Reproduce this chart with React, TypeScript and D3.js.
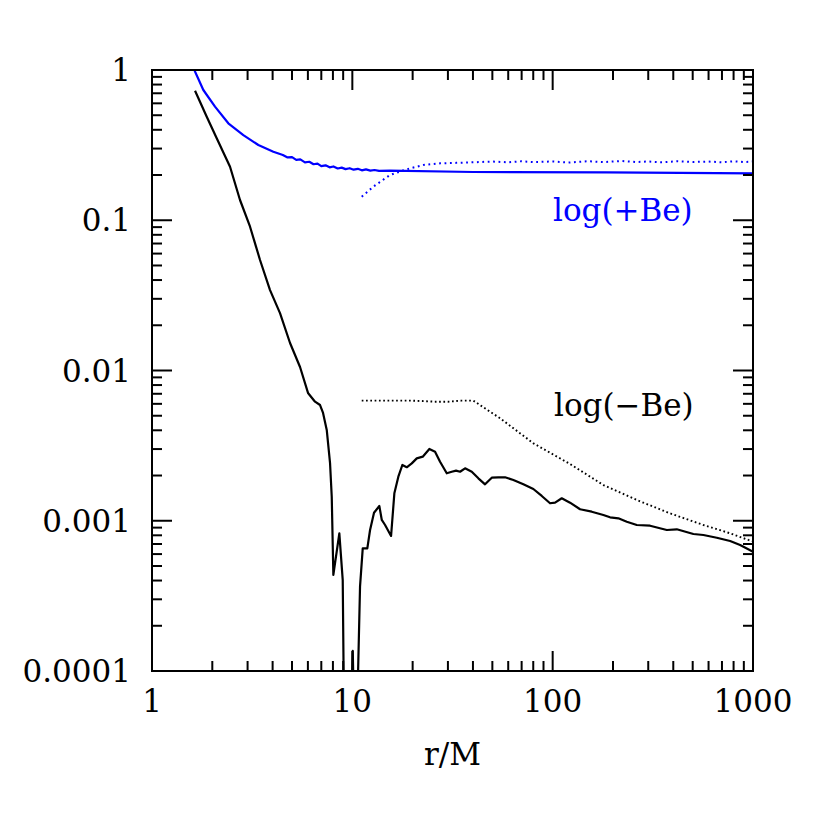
import React from "react";
import * as d3 from "d3";

// ---- data ----
const blackSolidR = [1.64,1.876,2.104,2.452,2.75,3.086,3.461,3.883,4.355,4.887,5.482,6.008,6.513,6.9,7.142,7.452,7.74,7.893,8.04,8.612,8.955,9.09,9.85,10.05,10.2,10.56,10.925,11.27,11.88,12.26,12.83,13.64,14.03,14.57,15.61,16.21,16.97,17.77,18.69,19.8,20.97,22.46,24.24,25.88,27.41,29.6,31.35,32.94,34.49,36.53,39.47,42.57,45.97,49.66,53.57,57.85,63.67,71.41,80.09,88.23,97.05,102.8,111,122.1,137,156.7,179.1,193.4,212.8,234.4,263,306.4,371.3,416.5,504.1,565.5,659.5,768.7,862.3,1000];
const blackSolidV = [0.728,0.489,0.351,0.227,0.1364,0.0906,0.0544,0.0343,0.0241,0.01524,0.01055,0.00709,0.0062,0.00589,0.00522,0.00402,0.00242,0.00144,0.000436,0.000825,0.000403,0.00005,0.00005,0.000136,0.00005,0.00005,0.000364,0.000655,0.000655,0.000868,0.001131,0.001253,0.001012,0.000937,0.000792,0.001523,0.001964,0.00235,0.00227,0.00241,0.0026,0.00267,0.003003,0.00288,0.00247,0.00207,0.00212,0.002154,0.00212,0.002234,0.00212,0.001916,0.001748,0.001934,0.001946,0.001946,0.001867,0.001748,0.001627,0.001462,0.001307,0.001319,0.001411,0.001319,0.001192,0.001149,0.001092,0.001054,0.001038,0.000986,0.000937,0.000927,0.000868,0.000877,0.000816,0.000804,0.000771,0.000733,0.00069,0.000622];

const blackDotR = [11.14,20,26,30,35,40.19,54.63,80.1,122.1,179.1,263,385.6,565.5,768.7,948.5,1000];
const blackDotV = [0.0063,0.0063,0.0062,0.0062,0.0063,0.0063,0.00481,0.003277,0.002386,0.001729,0.001374,0.00112,0.000937,0.000825,0.000745,0.00073];

const blueSolidR = [1.6,1.804,2.063,2.404,2.857,3.395,4.034,4.5,4.75,5.0,5.25,5.5,5.8,6.1,6.4,6.7,7.0,7.35,7.7,8.05,8.45,8.85,9.25,9.7,10.15,10.65,11.15,11.7,12.3,12.9,13.6,15.42,40.05,186.2,1000];
const blueSolidV = [1.05,0.736,0.57,0.442,0.369,0.3168,0.286,0.272,0.262,0.263,0.252,0.254,0.243,0.245,0.236,0.238,0.229,0.232,0.225,0.228,0.221,0.224,0.219,0.222,0.217,0.22,0.215,0.218,0.214,0.216,0.213,0.2137,0.2095,0.2085,0.205];

const blueDotR = [11.14,12.73,15.42,18.69,22.62,27.41,33,40.19,50,60,70,80,100,120,150,180,220,260,300,350,420,500,600,700,800,900,1000];
const blueDotV = [0.1435,0.1673,0.2001,0.2184,0.2332,0.2393,0.241,0.243,0.246,0.243,0.247,0.244,0.246,0.242,0.247,0.244,0.248,0.244,0.246,0.243,0.247,0.244,0.246,0.243,0.247,0.244,0.246];

const xMajor = [1, 10, 100, 1000];
const xMajorLabels = ["1", "10", "100", "1000"];
const yMajor = [0.0001, 0.001, 0.01, 0.1, 1];
const yMajorLabels = ["0.0001", "0.001", "0.01", "0.1", "1"];
const xLabel = "r/M";
const labelPlus = "log(+Be)";
const labelMinus = "log(\u2212Be)";

// ---- layout ----
const W = 822, H = 822;
const L = 152, R = 753, T = 70, B = 671;
const FONT = "'DejaVu Serif', serif";

export default function App() {
  const x = d3.scaleLog().domain([1, 1000]).range([L, R]);
  const y = d3.scaleLog().domain([1e-4, 1]).range([B, T]);
  const line = d3.line<[number, number]>().x(d => x(d[0])).y(d => y(d[1]));
  const zip = (a: number[], b: number[]) => a.map((v, i) => [v, b[i]] as [number, number]);

  const xMinor: number[] = [];
  for (let e = 0; e < 3; e++) for (let m = 2; m <= 9; m++) xMinor.push(m * Math.pow(10, e));
  const yMinor: number[] = [];
  for (let e = -4; e < 0; e++) for (let m = 2; m <= 9; m++) yMinor.push(m * Math.pow(10, e));

  const major = 20, minor = 10, sw = 2;

  return (
    <svg width={W} height={H} style={{ position: "absolute", left: 0, top: 0, background: "#fff" }}>
      <defs>
        <clipPath id="plot">
          <rect x={L} y={T} width={R - L} height={B - T} />
        </clipPath>
      </defs>
      <rect x={0} y={0} width={W} height={H} fill="#fff" />
      <g clipPath="url(#plot)" fill="none" strokeLinejoin="round">
        <path d={line(zip(blueSolidR, blueSolidV)) || ""} stroke="#0000ff" strokeWidth={2.2} />
        <path d={line(zip(blueDotR, blueDotV)) || ""} stroke="#0000ff" strokeWidth={2} strokeDasharray="1.8 3.6" />
        <path d={line(zip(blackSolidR, blackSolidV)) || ""} stroke="#000" strokeWidth={2.2} />
        <path d={line(zip(blackDotR, blackDotV)) || ""} stroke="#000" strokeWidth={1.9} strokeDasharray="1.7 2.6" />
      </g>
      {/* frame */}
      <rect x={L} y={T} width={R - L} height={B - T} fill="none" stroke="#000" strokeWidth={sw} />
      {/* ticks */}
      <g stroke="#000" strokeWidth={sw}>
        {xMajor.map(v => (
          <g key={"xM" + v}>
            <line x1={x(v)} x2={x(v)} y1={B} y2={B - major} />
            <line x1={x(v)} x2={x(v)} y1={T} y2={T + major} />
          </g>
        ))}
        {xMinor.map(v => (
          <g key={"xm" + v}>
            <line x1={x(v)} x2={x(v)} y1={B} y2={B - minor} />
            <line x1={x(v)} x2={x(v)} y1={T} y2={T + minor} />
          </g>
        ))}
        {yMajor.map(v => (
          <g key={"yM" + v}>
            <line x1={L} x2={L + major} y1={y(v)} y2={y(v)} />
            <line x1={R} x2={R - major} y1={y(v)} y2={y(v)} />
          </g>
        ))}
        {yMinor.map(v => (
          <g key={"ym" + v}>
            <line x1={L} x2={L + minor} y1={y(v)} y2={y(v)} />
            <line x1={R} x2={R - minor} y1={y(v)} y2={y(v)} />
          </g>
        ))}
      </g>
      {/* labels */}
      <g fontFamily={FONT} fontSize={31} fill="#000">
        {xMajor.map((v, i) => (
          <text key={"xl" + v} x={x(v)} y={712} textAnchor="middle">{xMajorLabels[i]}</text>
        ))}
        {yMajor.map((v, i) => (
          <text key={"yl" + v} x={131} y={y(v) + 11} textAnchor="end">{yMajorLabels[i]}</text>
        ))}
        <text x={(L + R) / 2} y={765} textAnchor="middle">{xLabel}</text>
        <text x={553} y={221} fill="#0000ff">{labelPlus}</text>
        <text x={554} y={416}>{labelMinus}</text>
      </g>
    </svg>
  );
}
